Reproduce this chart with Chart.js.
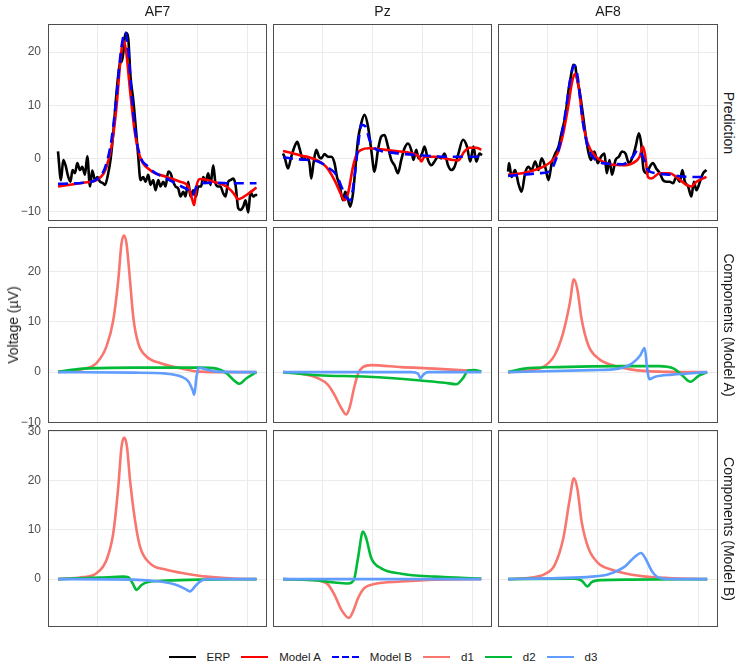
<!doctype html>
<html lang="en">
  <head>
    <meta charset="UTF-8" />
    <title>ERP model components</title>
    <script src="https://cdn.jsdelivr.net/npm/chart.js"></script>
    <style>
      body {
        margin: 0;
        width: 742px;
        height: 668px;
        position: relative;
        overflow: hidden;
        background: #fff;
        font-family: "Liberation Sans", Arial, sans-serif;
      }
      canvas {
        position: absolute;
      }
      .strip-top {
        position: absolute;
        top: 3px;
        font-size: 14px;
        color: #1a1a1a;
        text-align: center;
      }
      .strip-right,
      .ytitle {
        position: absolute;
        font-size: 14px;
        color: #1a1a1a;
        white-space: nowrap;
      }
      .strip-right {
        transform: translate(-50%, -50%) rotate(90deg);
      }
      .ytitle {
        transform: translate(-50%, -50%) rotate(-90deg);
      }
      #legend {
        position: absolute;
        left: 48px;
        width: 670px;
        top: 647px;
        height: 20px;
        display: flex;
        align-items: center;
        justify-content: center;
        font-size: 11.5px;
        color: #1a1a1a;
      }
      #legend svg {
        margin-right: 11px;
      }
      #legend span {
        margin-right: 11px;
      }
      #legend span:last-child {
        margin-right: 0;
      }
    </style>
  </head>
  <body>
    <div id="legend"></div>

    <script>
      // facets
      const CHANNELS = ["AF7", "Pz", "AF8"];
      const ROWS = ["Prediction", "Components (Model A)", "Components (Model B)"];

      // x = time in ms
      const X_TICKS = [0, 200, 400, 600];
      const Y_TICKS = [
        [-10, 0, 10, 20],
        [-10, 0, 10, 20],
        [0, 10, 20, 30],
      ];

      // ---- Prediction row: [ms, µV]
      const AF7_ERP = [[-157,1.3],[-145,-4.1],[-136,-0.3],[-127,-1.3],[-116,-3.5],[-107,-4.4],[-99,-2.2],[-89,-2.8],[-80,-0.9],[-69,-2.2],[-60,-1.6],[-49,-3.1],[-40,0.4],[-29,-5.3],[-20,-2.3],[-9,-4.1],[1,-3.5],[11,-4.4],[21,-4.6],[31,-5.0],[44,-2.8],[53,-0.3],[64,4.7],[77,12.3],[91,17.9],[97,18.2],[104,19.8],[111,23.1],[117,23.6],[124,22.6],[133,15.4],[144,11.0],[155,5.3],[164,0.3],[173,-4.1],[184,-3.5],[193,-4.4],[204,-3.1],[213,-5.0],[224,-4.1],[233,-6.0],[244,-4.1],[253,-5.3],[264,-4.4],[273,-5.3],[284,-2.5],[293,-2.8],[304,-4.4],[313,-5.3],[324,-5.7],[333,-7.2],[344,-6.3],[353,-7.2],[364,-4.4],[373,-7.2],[384,-6.0],[395,-7.2],[404,-5.3],[415,-5.3],[424,-3.5],[433,-4.4],[444,-2.8],[453,-5.0],[464,-1.3],[473,-4.7],[484,-5.3],[493,-5.3],[504,-6.6],[513,-7.2],[524,-4.4],[533,-4.1],[544,-3.8],[553,-5.0],[564,-9.4],[573,-9.7],[584,-9.1],[593,-7.9],[604,-10.2],[613,-6.3],[624,-7.2],[633,-6.9],[640,-6.9]];
      const AF7_MODEL_A = [[-157,-5.3],[-56,-4.6],[-3,-4.1],[25,-2.9],[37,-1.6],[57,2.2],[77,9.7],[93,18.6],[104,22.2],[115,20.4],[131,12.9],[151,4.7],[171,0.3],[211,-2.2],[277,-3.5],[331,-4.4],[364,-5.3],[381,-7.9],[388,-8.8],[397,-5.3],[411,-3.9],[464,-4.4],[517,-5.3],[544,-6.5],[564,-7.7],[597,-6.9],[637,-5.5]];
      const AF7_MODEL_B = [[-157,-4.8],[-56,-4.6],[11,-3.5],[37,-0.9],[57,3.5],[77,11.6],[93,19.5],[111,23.8],[124,20.4],[137,12.3],[157,3.5],[177,-0.2],[197,-1.3],[224,-2.5],[277,-3.8],[337,-5.3],[364,-6.0],[381,-6.9],[397,-5.3],[411,-4.7],[464,-4.6],[544,-4.7],[637,-4.7]];

      const PZ_ERP = [[-157,0.9],[-151,0.3],[-137,-1.9],[-124,0.3],[-111,2.2],[-100,3.1],[-91,1.9],[-77,-0.3],[-64,0.3],[-51,-0.9],[-44,-3.8],[-35,-0.9],[-24,1.6],[-13,0.3],[-4,0],[9,0.8],[23,0.3],[36,0.3],[49,-0.9],[59,-3.5],[69,-5.0],[83,-7.9],[92,-6.3],[100,-7.2],[112,-9.1],[123,-6.6],[133,-1.6],[143,3.5],[156,6.6],[169,8.2],[183,6.0],[196,1.6],[209,-2.5],[223,1.6],[236,4.1],[249,4.4],[263,2.2],[276,-0.3],[289,-1.3],[303,-2.8],[316,-0.3],[329,1.9],[343,2.8],[356,1.6],[365,-0.3],[376,1.6],[385,0],[399,0.9],[409,2.2],[423,-0.3],[436,-1.3],[449,-0.6],[463,0.3],[476,0],[489,0.9],[503,-1.3],[516,-2.2],[529,-1.6],[543,0.6],[563,3.5],[579,2.2],[592,-0.6],[605,2.2],[616,-0.6],[629,0.9],[639,0.6]];
      const PZ_MODEL_A = [[-157,1.4],[-91,0.6],[-24,-0.3],[16,-1.6],[49,-4.1],[76,-6.9],[89,-7.9],[103,-6.6],[123,-1.6],[136,0.6],[156,1.6],[189,1.9],[283,1.4],[363,0.9],[387,0.3],[396,-0.6],[409,0.3],[456,0.3],[509,-0.2],[543,-0.4],[569,1.3],[589,2.0],[616,2.0],[636,1.6]];
      const PZ_MODEL_B = [[-157,0.2],[-91,-0.2],[-17,-0.6],[29,-1.9],[56,-3.1],[83,-6.0],[99,-7.5],[112,-7.9],[129,-3.5],[143,2.2],[156,6.3],[173,6.0],[189,3.5],[209,1.9],[236,1.4],[309,0.9],[389,0.6],[496,0.3],[576,0.3],[636,0.3]];

      const AF8_ERP = [[-157,-2.5],[-153,-0.9],[-143,-3.5],[-129,-2.2],[-116,-4.7],[-103,-6.3],[-89,-2.8],[-76,-1.6],[-63,-2.2],[-49,-0.6],[-36,-2.2],[-23,0],[-9,-1.6],[4,-4.1],[17,-0.9],[31,0.9],[44,2.2],[57,5.0],[71,7.9],[84,12.9],[93,15.4],[103,17.6],[111,17.3],[116,15.4],[127,12.9],[137,9.7],[151,4.7],[164,0.9],[173,-0.3],[187,1.3],[200,-0.9],[213,0.3],[227,0.9],[236,-2.8],[247,-0.3],[257,-3.1],[271,-0.3],[284,0.3],[297,1.3],[311,0.9],[324,-0.9],[337,0],[351,2.2],[364,4.7],[373,2.8],[383,-2.2],[396,-2.8],[407,-1.6],[420,-0.9],[433,-1.9],[447,-2.8],[460,-4.1],[473,-4.4],[487,-4.4],[500,-4.7],[513,-3.5],[527,-4.4],[537,-2.2],[547,-4.4],[560,-5.3],[573,-7.2],[583,-4.4],[593,-6.0],[607,-4.4],[620,-2.8],[633,-2.2]];
      const AF8_MODEL_A = [[-157,-3.1],[-100,-2.8],[-33,-1.9],[7,-0.9],[40,0.9],[60,4.1],[80,9.1],[100,14.8],[111,15.9],[124,13.5],[140,7.2],[160,2.8],[193,0.3],[233,-0.9],[300,-1.3],[340,-0.9],[367,0.3],[380,2.2],[389,0.6],[400,-3.5],[413,-3.8],[447,-2.8],[487,-2.8],[513,-3.5],[553,-5.0],[573,-5.3],[593,-4.4],[633,-3.5]];
      const AF8_MODEL_B = [[-157,-3.3],[-100,-3.1],[-33,-2.8],[7,-2.5],[33,-0.3],[53,3.5],[73,9.1],[93,15.4],[107,17.5],[120,15.4],[140,7.2],[160,2.2],[180,0.3],[220,-0.9],[300,-1.1],[340,0.3],[360,1.6],[380,0.3],[400,-2.2],[433,-2.8],[487,-3.1],[567,-3.5],[633,-3.5]];

      // ---- Components, Model A
      const AF7_A_D1 = [[-157,0],[-56,0.6],[-3,1.8],[37,5.1],[64,10.3],[84,18.2],[97,25.5],[107,27.1],[117,25.5],[131,18.2],[144,10.9],[164,5.7],[197,3.1],[251,1.8],[331,0.8],[411,0.1],[517,0],[637,0]];
      const AF7_A_D2 = [[-157,0.1],[-56,0.7],[144,0.9],[411,0.9],[477,0.7],[517,-0.2],[544,-1.5],[568,-2.3],[597,-1.2],[637,0]];
      const AF7_A_D3 = [[-157,0],[144,-0.1],[277,-0.3],[337,-0.9],[364,-1.8],[381,-3.5],[388,-4.5],[397,-0.9],[407,0.9],[424,0.7],[477,0.1],[637,0]];

      const PZ_A_D1 = [[-157,0],[-84,-0.3],[-17,-1.2],[23,-2.5],[49,-4.5],[76,-7.1],[96,-8.4],[109,-7.1],[127,-3.2],[143,-0.3],[163,1.0],[196,1.4],[316,1.0],[449,0.7],[583,0.3],[636,0.1]];
      const PZ_A_D2 = [[-157,0],[-17,-0.6],[183,-0.9],[383,-1.6],[489,-2.1],[536,-2.4],[563,-1.2],[583,0.3],[609,0.4],[636,0.1]];
      const PZ_A_D3 = [[-157,0],[356,0],[383,-0.3],[393,-1.2],[404,-0.5],[423,0],[636,0]];

      const AF8_A_D1 = [[-157,0],[-64,0.4],[-11,1.2],[29,3.4],[63,7.9],[89,13.7],[105,18.4],[119,16.4],[136,10.5],[163,5.3],[203,2.7],[256,1.4],[336,0.5],[443,0.1],[636,0]];
      const AF8_A_D2 = [[-157,0],[-91,0.7],[43,1.0],[309,1.2],[443,1.2],[503,0.7],[536,-0.6],[569,-1.9],[603,-0.7],[636,0]];
      const AF8_A_D3 = [[-157,0],[176,0.4],[283,0.7],[336,1.7],[369,3.3],[387,4.8],[397,0.7],[405,-1.4],[429,-0.9],[496,-0.5],[636,0]];

      // ---- Components, Model B
      const AF7_B_D1 = [[-157,0],[-56,0.4],[-3,1.2],[37,3.9],[64,9.3],[84,18.7],[97,26.9],[108,28.8],[119,26.9],[131,20.2],[151,12.0],[171,6.6],[211,3.2],[277,1.9],[357,1.1],[437,0.5],[544,0.1],[637,0]];
      const AF7_B_D2 = [[-157,0],[11,0.3],[104,0.5],[124,0.4],[141,-0.8],[157,-2.2],[177,-1.2],[204,-0.6],[277,-0.3],[411,-0.1],[637,0]];
      const AF7_B_D3 = [[-157,0],[144,-0.1],[251,-0.5],[317,-1.2],[351,-2.0],[371,-2.5],[391,-1.5],[411,-0.5],[437,0],[637,0]];

      const PZ_B_D1 = [[-157,0],[-17,-0.3],[23,-1.1],[49,-3.2],[76,-6.2],[107,-7.9],[123,-6.6],[143,-3.9],[169,-1.8],[209,-1.0],[316,-0.5],[449,-0.1],[636,0]];
      const PZ_B_D2 = [[-157,0],[-17,-0.3],[49,-0.7],[103,-0.9],[127,-0.1],[143,4.3],[163,9.7],[176,8.3],[196,4.3],[236,2.2],[316,1.1],[449,0.5],[636,0.1]];
      const PZ_B_D3 = [[-157,0],[636,0]];

      const AF8_B_D1 = [[-157,0],[-64,0.3],[-11,1.0],[29,2.9],[63,8.3],[89,16.4],[105,20.5],[119,18.4],[136,11.7],[163,6.3],[203,3.2],[256,1.9],[336,0.9],[443,0.3],[636,0]];
      const AF8_B_D2 = [[-157,0],[109,0.1],[136,-0.3],[159,-1.5],[176,-0.6],[216,-0.2],[336,-0.1],[636,0]];
      const AF8_B_D3 = [[-157,0],[43,0.2],[176,0.5],[243,1.0],[309,2.6],[349,4.6],[372,5.3],[389,4.3],[416,1.6],[443,0.3],[496,0],[636,0]];

      const PANELS = [
        [
          { ERP: AF7_ERP, "Model A": AF7_MODEL_A, "Model B": AF7_MODEL_B },
          { ERP: PZ_ERP, "Model A": PZ_MODEL_A, "Model B": PZ_MODEL_B },
          { ERP: AF8_ERP, "Model A": AF8_MODEL_A, "Model B": AF8_MODEL_B },
        ],
        [
          { d1: AF7_A_D1, d2: AF7_A_D2, d3: AF7_A_D3 },
          { d1: PZ_A_D1, d2: PZ_A_D2, d3: PZ_A_D3 },
          { d1: AF8_A_D1, d2: AF8_A_D2, d3: AF8_A_D3 },
        ],
        [
          { d1: AF7_B_D1, d2: AF7_B_D2, d3: AF7_B_D3 },
          { d1: PZ_B_D1, d2: PZ_B_D2, d3: PZ_B_D3 },
          { d1: AF8_B_D1, d2: AF8_B_D2, d3: AF8_B_D3 },
        ],
      ];

      // ---- layout & styles
      const COL_X = [48, 273, 498];
      const COL_W = [219, 219, 220];
      const ROW_Y = [24, 227, 430];
      const ROW_H = [197, 196, 197];
      const Y_RANGE = [
        [-11.8, 25.3],
        [-10.08, 28.77],
        [-9.75, 30.35],
      ];
      const X_RANGE = [-197, 679];
      const PAD = 18; // room for the tick labels above/below the panel

      const STYLE = {
        ERP: { color: "#000000", order: 3 },
        "Model A": { color: "#FF0000", order: 2 },
        "Model B": { color: "#0000FF", order: 1, dash: [10, 6] },
        d1: { color: "#F8766D", order: 3 },
        d2: { color: "#00BA38", order: 2 },
        d3: { color: "#619CFF", order: 1 },
      };

      Chart.defaults.font.family = '"Liberation Sans", Arial, sans-serif';

      const panelBorder = {
        id: "panelBorder",
        afterDraw(chart) {
          const { ctx, chartArea: a } = chart;
          ctx.save();
          ctx.strokeStyle = "#4d4d4d";
          ctx.lineWidth = 1;
          ctx.strokeRect(a.left + 0.5, a.top + 0.5, a.width - 1, a.height - 1);
          ctx.restore();
        },
      };

      function addDiv(cls, text, css) {
        const d = document.createElement("div");
        d.className = cls;
        d.textContent = text;
        Object.assign(d.style, css);
        document.body.appendChild(d);
      }

      function drawPanel(row, col) {
        const series = PANELS[row][col];
        const leftAxis = col === 0 ? COL_X[0] : 0;
        const canvas = document.createElement("canvas");
        canvas.width = COL_W[col] + leftAxis;
        canvas.height = ROW_H[row] + 2 * PAD;
        canvas.style.left = COL_X[col] - leftAxis + "px";
        canvas.style.top = ROW_Y[row] - PAD + "px";
        document.body.appendChild(canvas);

        new Chart(canvas, {
          type: "line",
          data: {
            datasets: Object.keys(series).map((name) => ({
              label: name,
              data: series[name].map(([x, y]) => ({ x, y })),
              borderColor: STYLE[name].color,
              borderDash: STYLE[name].dash || [],
              borderWidth: 2.6,
              order: STYLE[name].order,
              pointRadius: 0,
              fill: false,
              cubicInterpolationMode: "monotone",
            })),
          },
          options: {
            responsive: false,
            animation: false,
            events: [],
            layout: { padding: { top: PAD, bottom: PAD, left: 0, right: 0 } },
            plugins: { legend: { display: false }, tooltip: { enabled: false } },
            scales: {
              x: {
                type: "linear",
                min: X_RANGE[0],
                max: X_RANGE[1],
                afterBuildTicks: (s) => {
                  s.ticks = X_TICKS.map((v) => ({ value: v }));
                },
                afterFit: (s) => {
                  s.height = 0;
                },
                ticks: { display: false },
                grid: { color: "#ebebeb", drawTicks: false },
                border: { display: false },
              },
              y: {
                min: Y_RANGE[row][0],
                max: Y_RANGE[row][1],
                afterBuildTicks: (s) => {
                  s.ticks = Y_TICKS[row].map((v) => ({ value: v }));
                },
                afterFit: (s) => {
                  s.width = leftAxis;
                },
                ticks: {
                  display: col === 0,
                  color: "#4d4d4d",
                  font: { size: 12 },
                  padding: 7,
                  callback: (v) => String(v).replace("-", "\u2212"),
                },
                grid: { color: "#ebebeb", drawTicks: false },
                border: { display: false },
              },
            },
          },
          plugins: [panelBorder],
        });
      }

      for (let r = 0; r < 3; r++) {
        for (let c = 0; c < 3; c++) drawPanel(r, c);
      }

      CHANNELS.forEach((name, c) => {
        addDiv("strip-top", name, { left: COL_X[c] + "px", width: COL_W[c] + "px" });
      });
      ROWS.forEach((name, r) => {
        addDiv("strip-right", name, { left: "729px", top: ROW_Y[r] + ROW_H[r] / 2 + "px" });
      });
      addDiv("ytitle", "Voltage (µV)", { left: "13px", top: "325px" });

      // legend
      const legend = document.getElementById("legend");
      Object.keys(STYLE).forEach((name) => {
        const st = STYLE[name];
        const dash = st.dash ? 'stroke-dasharray="7 3"' : "";
        legend.insertAdjacentHTML(
          "beforeend",
          `<svg width="27" height="6"><line x1="0" y1="3" x2="27" y2="3" stroke="${st.color}" stroke-width="2" ${dash}/></svg><span>${name}</span>`
        );
      });
    </script>
  </body>
</html>
